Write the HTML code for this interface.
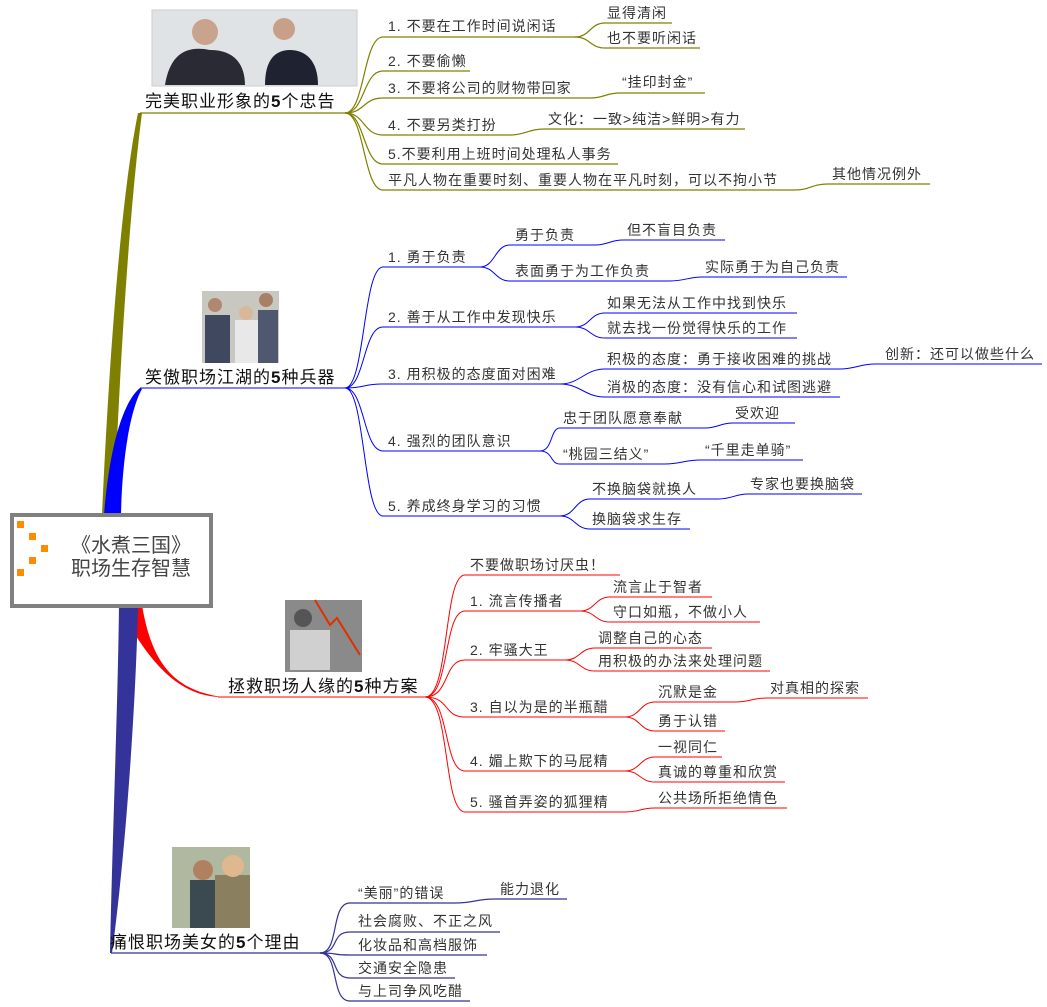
<!DOCTYPE html>
<html><head><meta charset="utf-8"><style>
html,body{margin:0;padding:0;background:#fff;width:1047px;height:1007px;overflow:hidden}
svg{display:block}
text{font-family:"Liberation Sans","Noto Sans CJK SC",sans-serif;font-size:14px;letter-spacing:1px;fill:#333}
.m{font-size:17px;fill:#111;letter-spacing:1px}
.o{stroke:#808000;fill:none;stroke-width:1.2}
.b{stroke:#0000ff;fill:none;stroke-width:1}
.r{stroke:#ff0000;fill:none;stroke-width:1}
.n{stroke:#333399;fill:none;stroke-width:1.2}
</style></head><body>
<svg width="1047" height="1007" viewBox="0 0 1047 1007">
<path d="M102 515 C108 380 120 200 138 113 L142 113 C128 220 118 400 114 515 Z" fill="#808000"/>
<path d="M104 515 C110 440 125 400 140 388 L142 389 C130 410 122 460 121 515 Z" fill="#0000ff"/>
<path d="M118 605 C140 645 170 697 222 697 C175 690 152 665 142 605 Z" fill="#ff0000"/>
<path d="M119 605 L138 605 C136 700 126 850 112 953 L110 953 C112 850 118 700 119 605 Z" fill="#333399"/>
<line x1="140" y1="113" x2="345" y2="113" class="o"/>
<line x1="140" y1="388" x2="345" y2="388" class="b"/>
<line x1="218" y1="697" x2="425" y2="697" class="r"/>
<line x1="111" y1="953" x2="320" y2="953" class="n"/>

<rect x="12" y="515" width="199" height="91" fill="#fff" stroke="#808080" stroke-width="4"/>
<rect x="17" y="521" width="7" height="7" fill="#ff8c00"/>
<rect x="29" y="533" width="7" height="7" fill="#ff8c00"/>
<rect x="41" y="545" width="7" height="7" fill="#ff8c00"/>
<rect x="29" y="557" width="7" height="7" fill="#ff8c00"/>
<rect x="17" y="569" width="7" height="7" fill="#ff8c00"/>
<text x="131" y="552" text-anchor="middle" style="font-size:20px;fill:#444;letter-spacing:0">《水煮三国》</text>
<text x="131" y="575" text-anchor="middle" style="font-size:20px;fill:#444;letter-spacing:0">职场生存智慧</text>

<rect x="152" y="10" width="205" height="76" fill="#dfe3e6" stroke="#ccc"/>
<path d="M165 85 C170 55 185 45 210 50 C235 50 245 65 245 85 Z" fill="#2a2a35"/>
<circle cx="205" cy="32" r="13" fill="#c9a48c"/>
<path d="M265 85 C265 60 275 50 290 50 C305 50 318 60 318 85 Z" fill="#1f2230"/>
<circle cx="284" cy="29" r="11" fill="#c8a087"/>
<rect x="202" y="291" width="77" height="72" fill="#c8c8c0"/>
<rect x="205" y="315" width="25" height="48" fill="#404860"/>
<rect x="235" y="320" width="25" height="43" fill="#e8e8e8"/>
<rect x="258" y="310" width="20" height="53" fill="#505870"/>
<circle cx="215" cy="305" r="7" fill="#b08870"/><circle cx="246" cy="313" r="7" fill="#d8b898"/><circle cx="266" cy="300" r="7" fill="#a88068"/>
<rect x="285" y="600" width="77" height="72" fill="#8a8a8a"/>
<rect x="290" y="630" width="40" height="40" fill="#d0d0d0"/>
<circle cx="303" cy="618" r="9" fill="#555"/>
<path d="M315 600 L330 625 L337 618 L360 655" stroke="#e03000" stroke-width="2" fill="none"/>
<rect x="172" y="847" width="78" height="81" fill="#b0b8a0"/>
<rect x="190" y="880" width="30" height="48" fill="#3a4a50"/>
<rect x="215" y="875" width="35" height="53" fill="#8a8060"/>
<circle cx="203" cy="870" r="10" fill="#b08060"/><circle cx="233" cy="866" r="11" fill="#e0b890"/>

<text x="145" y="107" class="m">完美职业形象的<tspan font-weight="bold">5</tspan>个忠告</text>
<text x="145" y="383" class="m">笑傲职场江湖的<tspan font-weight="bold">5</tspan>种兵器</text>
<text x="228" y="692" class="m">拯救职场人缘的<tspan font-weight="bold">5</tspan>种方案</text>
<text x="110" y="948" class="m">痛恨职场美女的<tspan font-weight="bold">5</tspan>个理由</text>

<g class="o">
<path d="M345 113 C365 113 363 37 383 37 L575 37"/>
<path d="M575 37 C590 37 590 23 605 23 L672 23"/>
<path d="M575 37 C590 37 590 48 605 48 L700 48"/>
<path d="M345 113 C365 113 363 71 383 71 L470 71"/>
<path d="M345 113 C365 113 363 98 383 98 L590 98"/>
<path d="M590 98 C605 98 605 93 620 93 L705 93"/>
<path d="M345 113 C365 113 363 135 383 135 L510 135"/>
<path d="M510 135 C525 135 528 129 545 129 L745 129"/>
<path d="M345 113 C365 113 363 164 383 164 L618 164"/>
<path d="M345 113 C365 113 363 190 383 190 L795 190"/>
<path d="M795 190 C810 190 812 184 828 184 L930 184"/>
</g>
<text x="388" y="31">1. 不要在工作时间说闲话</text>
<text x="607" y="18">显得清闲</text>
<text x="607" y="43">也不要听闲话</text>
<text x="388" y="66">2. 不要偷懒</text>
<text x="388" y="93">3. 不要将公司的财物带回家</text>
<text x="622" y="87">“挂印封金”</text>
<text x="388" y="130">4. 不要另类打扮</text>
<text x="548" y="124">文化：一致&gt;纯洁&gt;鲜明&gt;有力</text>
<text x="388" y="159">5.不要利用上班时间处理私人事务</text>
<text x="388" y="185">平凡人物在重要时刻、重要人物在平凡时刻，可以不拘小节</text>
<text x="832" y="179">其他情况例外</text>

<g class="b">
<path d="M345 388 C365 388 363 267 383 267 L480 267"/>
<path d="M480 267 C495 267 495 245 510 245 L595 245"/>
<path d="M595 245 C608 245 610 240 623 240 L725 240"/>
<path d="M480 267 C495 267 495 281 510 281 L670 281"/>
<path d="M670 281 C685 281 688 277 702 277 L847 277"/>
<path d="M345 388 C365 388 363 327 383 327 L575 327"/>
<path d="M575 327 C590 327 590 313 605 313 L797 313"/>
<path d="M575 327 C590 327 590 338 605 338 L797 338"/>
<path d="M345 388 C365 388 363 384 383 384 L560 384"/>
<path d="M560 384 C580 384 585 369 605 369 L840 369"/>
<path d="M840 369 C855 369 860 364 875 364 L1042 364"/>
<path d="M560 384 C580 384 585 397 605 397 L840 397"/>
<path d="M345 388 C365 388 363 451 383 451 L540 451"/>
<path d="M540 451 C553 451 550 428 560 428 L705 428"/>
<path d="M705 428 C718 428 720 423 733 423 L795 423"/>
<path d="M540 451 C553 451 550 464 560 464 L665 464"/>
<path d="M665 464 C680 464 685 460 700 460 L803 460"/>
<path d="M345 388 C365 388 363 516 383 516 L560 516"/>
<path d="M560 516 C575 516 575 499 590 499 L718 499"/>
<path d="M718 499 C732 499 735 494 748 494 L862 494"/>
<path d="M560 516 C575 516 575 529 590 529 L690 529"/>
</g>
<text x="388" y="262">1. 勇于负责</text>
<text x="515" y="240">勇于负责</text>
<text x="627" y="235">但不盲目负责</text>
<text x="515" y="276">表面勇于为工作负责</text>
<text x="705" y="272">实际勇于为自己负责</text>
<text x="388" y="322">2. 善于从工作中发现快乐</text>
<text x="607" y="308">如果无法从工作中找到快乐</text>
<text x="607" y="333">就去找一份觉得快乐的工作</text>
<text x="388" y="379">3. 用积极的态度面对困难</text>
<text x="607" y="364">积极的态度：勇于接收困难的挑战</text>
<text x="885" y="359">创新：还可以做些什么</text>
<text x="607" y="392">消极的态度：没有信心和试图逃避</text>
<text x="388" y="446">4. 强烈的团队意识</text>
<text x="563" y="423">忠于团队愿意奉献</text>
<text x="735" y="418">受欢迎</text>
<text x="563" y="459">“桃园三结义”</text>
<text x="705" y="455">“千里走单骑”</text>
<text x="388" y="511">5. 养成终身学习的习惯</text>
<text x="592" y="494">不换脑袋就换人</text>
<text x="750" y="489">专家也要换脑袋</text>
<text x="592" y="524">换脑袋求生存</text>

<g class="r">
<path d="M425 697 C450 697 443 575 465 575 L620 575"/>
<path d="M425 697 C450 697 443 611 465 611 L580 611"/>
<path d="M580 611 C595 611 595 597 610 597 L712 597"/>
<path d="M580 611 C595 611 595 622 610 622 L760 622"/>
<path d="M425 697 C450 697 443 660 465 660 L565 660"/>
<path d="M565 660 C580 660 580 648 595 648 L712 648"/>
<path d="M565 660 C580 660 580 671 595 671 L770 671"/>
<path d="M425 697 C450 697 443 717 465 717 L625 717"/>
<path d="M625 717 C640 717 640 702 655 702 L735 702"/>
<path d="M735 702 C750 702 752 698 767 698 L868 698"/>
<path d="M625 717 C640 717 640 731 655 731 L725 731"/>
<path d="M425 697 C450 697 443 771 465 771 L625 771"/>
<path d="M625 771 C640 771 640 757 655 757 L722 757"/>
<path d="M625 771 C640 771 640 782 655 782 L785 782"/>
<path d="M425 697 C450 697 443 812 465 812 L625 812"/>
<path d="M625 812 C640 812 640 808 655 808 L787 808"/>
</g>
<text x="470" y="570">不要做职场讨厌虫！</text>
<text x="470" y="606">1. 流言传播者</text>
<text x="613" y="592">流言止于智者</text>
<text x="613" y="617">守口如瓶，不做小人</text>
<text x="470" y="655">2. 牢骚大王</text>
<text x="598" y="643">调整自己的心态</text>
<text x="598" y="666">用积极的办法来处理问题</text>
<text x="470" y="712">3. 自以为是的半瓶醋</text>
<text x="658" y="697">沉默是金</text>
<text x="770" y="693">对真相的探索</text>
<text x="658" y="726">勇于认错</text>
<text x="470" y="766">4. 媚上欺下的马屁精</text>
<text x="658" y="752">一视同仁</text>
<text x="658" y="777">真诚的尊重和欣赏</text>
<text x="470" y="807">5. 骚首弄姿的狐狸精</text>
<text x="658" y="803">公共场所拒绝情色</text>

<g class="n">
<path d="M320 953 C340 953 330 903 350 903 L455 903"/>
<path d="M455 903 C475 903 475 899 495 899 L567 899"/>
<path d="M320 953 C340 953 330 932 350 932 L500 932"/>
<path d="M320 953 C340 953 330 955 350 955 L487 955"/>
<path d="M320 953 C340 953 330 978 350 978 L455 978"/>
<path d="M320 953 C340 953 330 1001 350 1001 L470 1001"/>
</g>
<text x="358" y="898">“美丽”的错误</text>
<text x="500" y="894">能力退化</text>
<text x="358" y="926">社会腐败、不正之风</text>
<text x="358" y="950">化妆品和高档服饰</text>
<text x="358" y="973">交通安全隐患</text>
<text x="358" y="996">与上司争风吃醋</text>
</svg>
</body></html>
